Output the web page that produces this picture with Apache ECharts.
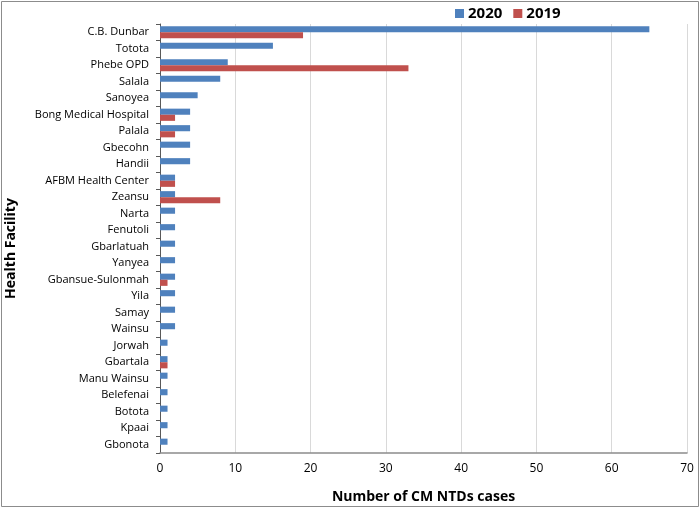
<!DOCTYPE html>
<html><head><meta charset="utf-8">
<script src="https://cdn.jsdelivr.net/npm/echarts@6/dist/echarts.min.js"></script>
<style>html,body{margin:0;padding:0;background:#fff}#c{width:700px;height:508px}</style>
</head><body><div id="c"></div>
<script>
const categories = ["C.B. Dunbar","Totota","Phebe OPD","Salala","Sanoyea","Bong Medical Hospital","Palala","Gbecohn","Handii","AFBM Health Center","Zeansu","Narta","Fenutoli","Gbarlatuah","Yanyea","Gbansue-Sulonmah","Yila","Samay","Wainsu","Jorwah","Gbartala","Manu Wainsu","Belefenai","Botota","Kpaai","Gbonota"];
const values2020 = [65,15,9,8,5,4,4,4,4,2,2,2,2,2,2,2,2,2,2,1,1,1,1,1,1,1];
const values2019 = [19,null,33,null,null,2,2,null,null,2,8,null,null,null,null,1,null,null,null,null,1,null,null,null,null,null];
const xTicks = [0,10,20,30,40,50,60,70];

const font = "'Open Sans', 'Liberation Sans', sans-serif";
const chart = echarts.init(document.getElementById('c'), null, {renderer:'canvas'});
chart.setOption({
  animation:false,
  backgroundColor:'#fff',
  graphic:[{type:'rect',shape:{x:1.5,y:1.5,width:697,height:505},style:{fill:null,stroke:'#8c8c8c',lineWidth:1},silent:true}],
  legend:{
    data:['2020','2019'], top:1, left:450, itemWidth:9, itemHeight:9, itemGap:11,
    icon:'rect',
    textStyle:{fontFamily:font,fontWeight:'bold',fontSize:15,color:'#000',padding:[0,0,0,-1]}
  },
  grid:{left:160,right:13,top:24,bottom:55,containLabel:false,outerBoundsMode:'none'},
  xAxis:{
    type:'value', min:xTicks[0], max:xTicks[xTicks.length-1], interval:10,
    name:'Number of CM NTDs cases', nameLocation:'middle', nameGap:37,
    nameTextStyle:{fontFamily:font,fontWeight:'bold',fontSize:14,color:'#000'},
    axisLine:{show:true,lineStyle:{color:'#8c8c8c',width:1.5}},
    axisTick:{show:false},
    axisLabel:{fontFamily:font,fontSize:12,color:'#000',margin:10},
    splitLine:{show:true,lineStyle:{color:'#d9d9d9',width:1}}
  },
  yAxis:{
    type:'category', data:categories, inverse:true,
    name:'Health Facility', nameLocation:'middle', nameGap:142, nameRotate:90,
    nameTextStyle:{fontFamily:font,fontWeight:'bold',fontSize:14,color:'#000',padding:[0,20,0,0]},
    axisLine:{show:true,lineStyle:{color:'#595959',width:1}},
    axisTick:{show:true,length:4,inside:false,alignWithLabel:false,lineStyle:{color:'#595959'}},
    axisLabel:{fontFamily:font,fontSize:11,color:'#000',margin:11},
    splitLine:{show:false}
  },
  series:[
    {name:'2020',type:'bar',data:values2020,barGap:'0%',barCategoryGap:'26%',
     itemStyle:{color:'#4F81BD'}},
    {name:'2019',type:'bar',data:values2019,barGap:'0%',barCategoryGap:'26%',
     itemStyle:{color:'#C0504D'}}
  ]
});
</script></body></html>
